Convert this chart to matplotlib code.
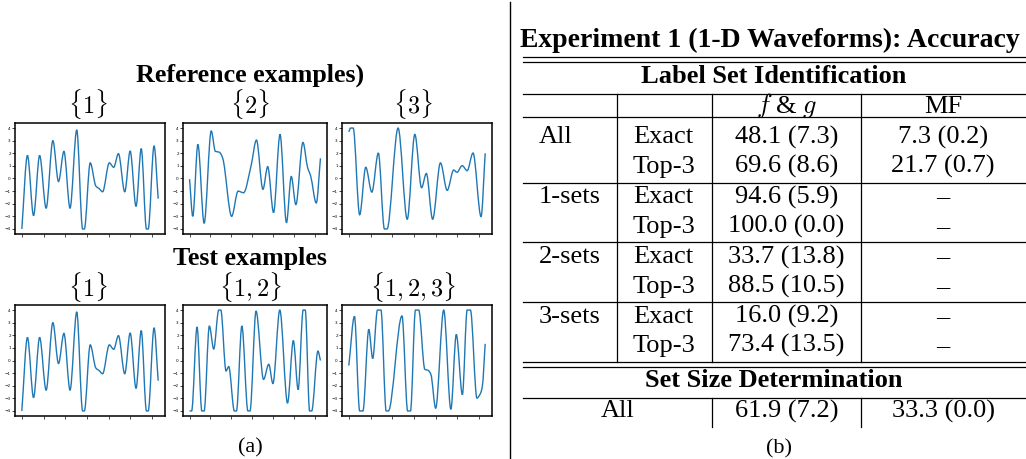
import matplotlib
matplotlib.use('Agg')
import matplotlib.pyplot as plt
from matplotlib.lines import Line2D
from matplotlib.path import Path
from matplotlib.patches import PathPatch

# ---------------- data ----------------
ref1_t = [0, 0.26, 0.54, 0.82, 1.12, 1.43, 1.69, 1.94, 2.22, 2.53, 2.80, 2.88, 3.15, 3.41, 3.56,
          3.72, 4.03, 4.23, 4.45, 4.74, 4.99, 5.26, 5.50, 5.74, 5.82, 6.09, 6.28]
ref1_y = [-4, 1.83, -2.94, 1.83, -2.35, 3.0, -0.24, 2.15, -2.35, 3.85, -4, -4, 1.24, -0.6, -0.8,
          -1.05, 1.24, 0.89, 1.97, -1.05, 2.18, -2.21, 2.37, -4, -4, 2.59, -1.6]

ref2_t = [0, 0.155, 0.4, 0.7, 1.04, 1.24, 1.40, 1.48, 1.6, 2.02, 2.33, 2.48, 2.59, 2.95, 3.21,
          3.52, 3.75, 4.03, 4.34, 4.65, 4.88, 5.1, 5.44, 5.66, 5.81, 6.08, 6.28]
ref2_y = [-0.05, -3.0, 2.7, -3.55, 3.77, 2.15, 2.1, 2.0, 1.56, -3.0, -1.0, -1.08, -1.13, 1.0, 3.05,
          -0.86, 0.94, -2.7, 3.5, -3.5, 0.16, -2.07, 2.86, 0.89, 0.2, -1.94, 1.6]

ref3_t = [0, 0.08, 0.2, 0.5, 0.78, 1.06, 1.36, 1.64, 1.76, 2.27, 2.69, 3.04, 3.35, 3.57, 3.86,
          4.22, 4.53, 4.83, 4.98, 5.22, 5.45, 5.72, 6.09, 6.28]
ref3_y = [3.7, 4, 4, -2.88, 0.89, -1.08, 2.02, -4, -4, 4.0, -3.23, 3.5, -0.73, 0.4, -3.23,
          1.24, -0.94, 0.67, 0.49, 1.02, 0.62, 2.02, -3.02, 2.0]

test12_t = [0, 0.1, 0.36, 0.59, 0.7, 0.95, 1.16, 1.4, 1.5, 1.75, 1.88, 2.15, 2.25, 2.51, 2.8,
            2.9, 3.19, 3.55, 3.8, 4.0, 4.33, 4.7, 4.98, 5.21, 5.45, 5.55, 5.76, 5.86, 6.16, 6.28]
test12_y = [-4, -4, 2.66, -4, -4, 2.74, 0.91, 4, 4, -0.83, -0.48, -4, -4, 2.74, -4,
            -4, 3.92, -1.5, -0.3, -1.83, 4, -3.38, 1.58, -2.31, 4, 4, -4, -4, 0.75, 0]

test123_t = [0, 0.26, 0.5, 0.65, 0.92, 1.1, 1.32, 1.48, 1.72, 1.82, 2.45, 2.71, 2.84, 3.07, 3.22,
             3.5, 3.65, 3.78, 4.0, 4.37, 4.7, 4.95, 5.23, 5.45, 5.6, 5.9, 6.07, 6.15, 6.28]
test123_y = [-0.4, 3.5, -4, -4, 2.47, 0.16, 4, 4, -4, -4, 3.54, -4, -4, 4, 4,
             -0.7, -0.78, -1.1, -3.78, 4, -3.87, 2.07, -2.71, 4, 4, -2.98, -2.58, -2.04, 1.32]

ref_labels = [r'$\{1\}$', r'$\{2\}$', r'$\{3\}$']
test_labels = [r'$\{1\}$', r'$\{1,2\}$', r'$\{1,2,3\}$']
ytick_vals = [-4, -3, -2, -1, 0, 1, 2, 3, 4]
xtick_vals = [0, 1, 2, 3, 4, 5, 6]

table_title = 'Experiment 1 (1-D Waveforms): Accuracy'
section1 = 'Label Set Identification'
section2 = 'Set Size Determination'
col_heads = [r'$f$ & $g$', 'MF']
groups = ['All', '1-sets', '2-sets', '3-sets']
metrics = ['Exact', 'Top-3']
fg_vals = ['48.1 (7.3)', '69.6 (8.6)', '94.6 (5.9)', '100.0 (0.0)',
           '33.7 (13.8)', '88.5 (10.5)', '16.0 (9.2)', '73.4 (13.5)']
mf_vals = ['7.3 (0.2)', '21.7 (0.7)', '–', '–', '–', '–', '–', '–']
size_label = 'All'
size_vals = ['61.9 (7.2)', '33.3 (0.0)']

# ---------------- figure ----------------
W, H = 1026, 459
plt.rcParams['mathtext.fontset'] = 'cm'
SERIF = 'Liberation Serif'
fig = plt.figure(figsize=(W / 100, H / 100), dpi=100)
BODY = 19


def fx(x):
    return x / W


def fy(y):
    return 1 - y / H


def hline(x0, x1, y, lw=0.9, color='black'):
    fig.add_artist(Line2D([fx(x0), fx(x1)], [fy(y), fy(y)], color=color, lw=lw,
                          transform=fig.transFigure))


def vline(x, y0, y1, lw=0.9, color='black'):
    fig.add_artist(Line2D([fx(x), fx(x)], [fy(y0), fy(y1)], color=color, lw=lw,
                          transform=fig.transFigure))


def txt(x, y, s, size=BODY, bold=False, ha='center'):
    fig.text(fx(x), fy(y), s, ha=ha, va='baseline', fontsize=size,
             family=SERIF, weight='bold' if bold else 'normal')


def smooth_path(t, y):
    """Monotone cubic (curveMonotoneX-style) rendering path through the read points."""
    n = len(t)
    sec = [(y[i + 1] - y[i]) / (t[i + 1] - t[i]) for i in range(n - 1)]
    m = [0.0] * n
    m[0] = sec[0]
    m[-1] = sec[-1]
    for i in range(1, n - 1):
        a, b = sec[i - 1], sec[i]
        if a * b <= 0:
            m[i] = 0.0
        else:
            m[i] = 2 * a * b / (a + b)
    verts = [(t[0], y[0])]
    codes = [Path.MOVETO]
    for i in range(n - 1):
        h = t[i + 1] - t[i]
        verts += [(t[i] + h / 3, y[i] + m[i] * h / 3),
                  (t[i + 1] - h / 3, y[i + 1] - m[i + 1] * h / 3),
                  (t[i + 1], y[i + 1])]
        codes += [Path.CURVE4] * 3
    return Path(verts, codes)


def add_wave(box, t, y):
    x0, y0, x1, y1 = box
    ax = fig.add_axes([fx(x0), fy(y1), (x1 - x0) / W, (y1 - y0) / H])
    ax.add_patch(PathPatch(smooth_path(t, y), facecolor='none', edgecolor='#1f77b4',
                           lw=1.0, transform=ax.transData))
    ax.set_xlim(-0.314, 6.594)
    ax.set_ylim(-4.4, 4.4)
    ax.set_yticks(ytick_vals)
    ax.set_xticks(xtick_vals)
    ax.set_xticklabels([])
    ax.tick_params(labelsize=3, length=2, width=0.5, pad=1)
    for s in ax.spines.values():
        s.set_linewidth(1.1)
    return ax


cols = [(15, 165), (183, 327), (342, 492)]
row1 = (123, 234)
row2 = (305, 416)
ref_data = [(ref1_t, ref1_y), (ref2_t, ref2_y), (ref3_t, ref3_y)]
test_data = [(ref1_t, ref1_y), (test12_t, test12_y), (test123_t, test123_y)]
label_x = [88, 250, 413]

for (c0, c1), (t, y) in zip(cols, ref_data):
    add_wave((c0, row1[0], c1, row1[1]), t, y)
for (c0, c1), (t, y) in zip(cols, test_data):
    add_wave((c0, row2[0], c1, row2[1]), t, y)

txt(250, 82, 'Reference examples)', size=18.7, bold=True)
txt(250, 265, 'Test examples', size=18.7, bold=True)
for lx, s in zip(label_x, ref_labels):
    fig.text(fx(lx), fy(113), s, ha='center', va='baseline', fontsize=17.5)
for lx, s in zip(label_x, test_labels):
    fig.text(fx(lx), fy(296.5), s, ha='center', va='baseline', fontsize=17.5)
txt(250, 452, '(a)', size=16)

# separator
vline(510, 2, 459, lw=1.0)

# ---------------- table ----------------
L, R = 523, 1026
c1x, c2x, c3x = 617, 712, 861
txt(770, 46.7, table_title, size=20, bold=True)
hline(L, R, 57)
hline(L, R, 62)
txt(774, 83.3, section1, size=BODY, bold=True)
hline(L, R, 94)
txt((c2x + c3x) / 2, 113.3, col_heads[0])
txt((c3x + R) / 2 - 0.5, 113.3, col_heads[1])
hline(L, R, 117)

row_base = [[143.3, 172.7], [203.3, 232.7], [263.3, 292.7], [322.7, 351.7]]
sep_y = [183.3, 241.7, 301.7]
for gi, g in enumerate(groups):
    for mi, m in enumerate(metrics):
        yb = row_base[gi][mi]
        if mi == 0:
            txt(539, yb, g, ha='left')
        txt(633, yb, m, ha='left')
        txt((c2x + c3x) / 2, yb, fg_vals[gi * 2 + mi])
        txt((c3x + R) / 2 - 0.5, yb, mf_vals[gi * 2 + mi])
for sy in sep_y:
    hline(L, R, sy)
for vx in (c1x, c2x, c3x):
    vline(vx, 94, 361.7)
hline(L, R, 361.7)
hline(L, R, 366.7)
txt(774, 387.3, section2, size=BODY, bold=True)
hline(L, R, 397.7)
txt((L + c2x) / 2, 417.3, size_label)
txt((c2x + c3x) / 2, 417.3, size_vals[0])
txt((c3x + R) / 2 - 0.5, 417.3, size_vals[1])
vline(c2x, 397.7, 427)
vline(c3x, 397.7, 427)
txt(779, 453, '(b)', size=16)

fig.savefig('out.png', dpi=100)
